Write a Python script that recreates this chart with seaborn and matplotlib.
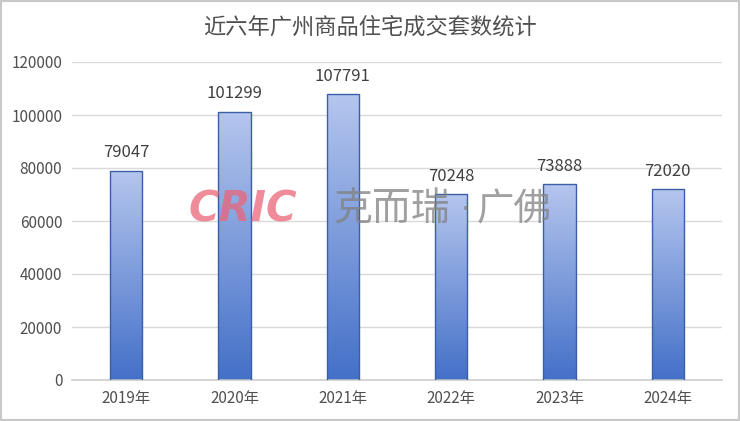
import numpy as np
import pandas as pd
import matplotlib
matplotlib.use("Agg")
import matplotlib.pyplot as plt
import seaborn as sns
from matplotlib.colors import LinearSegmentedColormap
from matplotlib.patches import Rectangle

years = ["2019年", "2020年", "2021年", "2022年", "2023年", "2024年"]
values = [79047, 101299, 107791, 70248, 73888, 72020]
yticks = [0, 20000, 40000, 60000, 80000, 100000, 120000]
title = "近六年广州商品住宅成交套数统计"

sns.set_theme(style="white")
plt.rcParams['font.family'] = ['Noto Sans CJK SC', 'DejaVu Sans']

fig = plt.figure(figsize=(7.4, 4.21), dpi=100)
ax = fig.add_axes([72/740, 1-380/421, 650/740, 318/421])

df = pd.DataFrame({"year": years, "value": values})
sns.barplot(data=df, x="year", y="value", ax=ax, width=0.30,
            color="#4472c4", edgecolor="#3a5ea8", linewidth=1.0, zorder=3)

cmap = LinearSegmentedColormap.from_list("g", ["#4470c8", "#b5c6ee"])
grad = np.linspace(0, 1, 256).reshape(-1, 1)
for p in ax.patches:
    x0, y0 = p.get_x(), p.get_y()
    w, h = p.get_width(), p.get_height()
    p.set_facecolor("none")
    im = ax.imshow(grad, cmap=cmap, origin="lower", aspect="auto",
                   extent=[x0, x0 + w, y0, y0 + h], zorder=2.5)
    im.set_clip_path(p)

ax.set_xlim(-0.5, 5.5)
ax.set_ylim(0, 120000)
ax.set_yticks(yticks)
ax.set_yticklabels([str(t) for t in yticks])
ax.yaxis.grid(True, color="#d9d9d9", linewidth=1.0, zorder=0)
ax.set_axisbelow(True)
for s in ["top", "right", "left"]:
    ax.spines[s].set_visible(False)
ax.spines["bottom"].set_color("#d0d0d0")
ax.set_xlabel("")
ax.set_ylabel("")
ax.tick_params(axis="both", length=0, labelsize=11, labelcolor="#505050")
ax.tick_params(axis="y", pad=7)
ax.tick_params(axis="x", pad=7)

for i, v in enumerate(values):
    ax.text(i, v + 3500, str(v), ha="center", va="bottom", fontsize=12,
            color="#404040", zorder=5)

fig.text(0.5, 1 - 27/421, title, ha="center", va="center", fontsize=16,
         color="#505050")

# watermark
wy = 1 - 210/421
fig.text(188/740, wy, "CRIC", ha="left", va="center", fontsize=30,
         fontweight="bold", fontstyle="italic", color="#ec6578", alpha=0.75,
         family=["DejaVu Sans"], zorder=10)
fig.text(333/740, wy, "克而瑞", ha="left", va="center", fontsize=28,
         color="#808080", alpha=0.75, zorder=10)
fig.text(466/740, wy, "·", ha="center", va="center", fontsize=22,
         color="#808080", alpha=0.75, family=["DejaVu Sans"], zorder=10)
fig.text(477/740, wy, "广佛", ha="left", va="center", fontsize=27,
         color="#808080", alpha=0.75, zorder=10)

fig.patches.append(Rectangle((0, 0), 1, 1, transform=fig.transFigure,
                             fill=False, edgecolor="#c8c8c8", linewidth=3))

fig.savefig("out.png", dpi=100)
